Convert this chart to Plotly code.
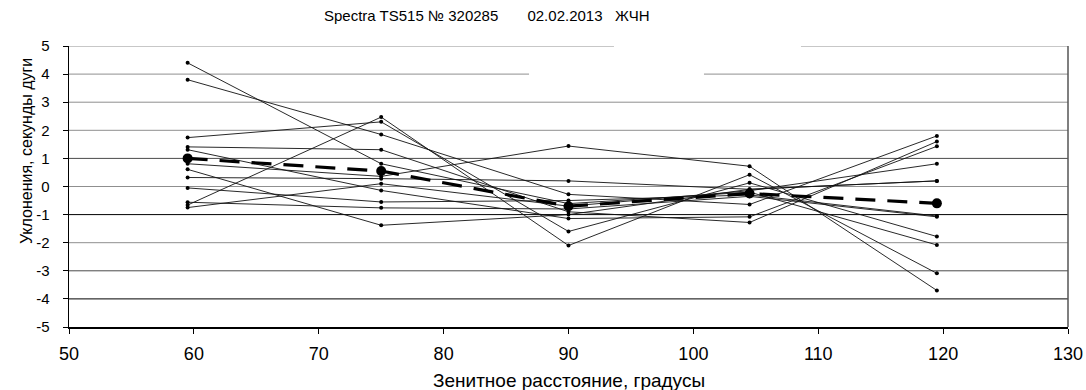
import plotly.graph_objects as go

zenith = [59.5, 75, 90, 104.5, 119.5]

s01 = [4.40, 0.81, -0.61, -0.20, -2.08]
s02 = [3.80, 1.85, -0.28, -0.64, 1.80]
s03 = [1.74, 2.30, -1.60, 0.13, -1.78]
s04 = [1.41, 1.31, -0.90, -1.28, 1.60]
s05 = [1.31, -0.14, -1.14, -1.08, 1.43]
s06 = [0.81, 0.36, 1.44, 0.72, -3.70]
s07 = [0.61, -1.38, -1.00, -0.10, 0.20]
s08 = [0.32, 0.28, 0.20, -0.10, 0.20]
s09 = [-0.05, -0.55, -0.50, -0.30, -1.05]
s10 = [-0.56, -0.76, -0.80, -0.35, -1.08]
s11 = [-0.66, 2.47, -2.10, 0.42, -3.09]
s12 = [-0.75, 0.10, -0.70, -0.15, 0.81]
series = [s01, s02, s03, s04, s05, s06, s07, s08, s09, s10, s11, s12]
mean_vals = [1.00, 0.55, -0.70, -0.25, -0.60]

x_ticks = [50, 60, 70, 80, 90, 100, 110, 120, 130]
y_ticks = [-5, -4, -3, -2, -1, 0, 1, 2, 3, 4, 5]

title_text = ("Spectra TS515 № 320285&nbsp;&nbsp;&nbsp;&nbsp;&nbsp;&nbsp;&nbsp;"
              "02.02.2013&nbsp;&nbsp;&nbsp;ЖЧН")
x_title = "Зенитное расстояние, градусы"
y_title = "Уклонения, секунды дуги"

FONT = "Liberation Sans, Arial, sans-serif"

fig = go.Figure()
for s in series:
    fig.add_trace(go.Scatter(
        x=zenith, y=s, mode="lines+markers",
        line=dict(color="#111111", width=0.9),
        marker=dict(color="#000000", size=4),
        showlegend=False, hoverinfo="skip"))
fig.add_trace(go.Scatter(
    x=zenith, y=mean_vals, mode="lines+markers",
    line=dict(color="#000000", width=3.2, dash="20px,12px"),
    marker=dict(color="#000000", size=10),
    showlegend=False, hoverinfo="skip"))

shapes = []
grid_colors = {5: "#8f8f8f", 4: "#8f8f8f", 3: "#8f8f8f", 2: "#8f8f8f", 1: "#4a4a4a",
               0: "#8f8f8f", -1: "#000000", -2: "#8f8f8f", -3: "#4a4a4a", -4: "#000000"}
for v, c in grid_colors.items():
    shapes.append(dict(type="line", xref="paper", yref="y", x0=0, x1=1, y0=v, y1=v,
                       line=dict(color=c, width=1), layer="below"))
shapes.append(dict(type="line", xref="paper", yref="paper", x0=1, x1=1, y0=0, y1=1,
                   line=dict(color="#555555", width=1.5), layer="below"))
# white patches hiding parts of the upper gridlines (as in the reference)
shapes.append(dict(type="rect", xref="paper", yref="y", x0=0.5455, x1=0.7327, y0=4.85, y1=5.2,
                   fillcolor="white", line=dict(width=0), layer="above"))
shapes.append(dict(type="rect", xref="paper", yref="y", x0=0.4605, x1=0.6356, y0=3.85, y1=4.15,
                   fillcolor="white", line=dict(width=0), layer="above"))

fig.update_layout(
    width=1086, height=390,
    margin=dict(l=69, r=18, t=46, b=63, autoexpand=False),
    paper_bgcolor="white", plot_bgcolor="white",
    font=dict(family=FONT, color="#000000"),
    shapes=shapes,
    xaxis=dict(range=[50, 130], tickvals=x_ticks, ticktext=[str(t) for t in x_ticks],
               showgrid=False, zeroline=False, showline=True, linecolor="#000000", linewidth=1.5,
               ticks="outside", ticklen=5, tickcolor="#000000", tickfont=dict(size=18),
               ticklabelstandoff=5, automargin=False),
    yaxis=dict(range=[-5, 5], tickvals=y_ticks, ticktext=[str(t) for t in y_ticks],
               showgrid=False, zeroline=False, showline=True, linecolor="#000000", linewidth=1.5,
               ticks="outside", ticklen=5, tickcolor="#000000", tickfont=dict(size=15),
               ticklabelstandoff=10, automargin=False),
    annotations=[
        dict(text=title_text, xref="paper", yref="paper", x=0.418, y=1.0,
             yshift=31, xanchor="center", yanchor="middle", showarrow=False,
             font=dict(size=15, family=FONT)),
        dict(text=x_title, xref="paper", yref="paper", x=0.5, y=0, yshift=-53,
             xanchor="center", yanchor="middle", showarrow=False,
             font=dict(size=19, family=FONT)),
        dict(text=y_title, xref="paper", yref="paper", x=0, xshift=-43, y=0.626,
             xanchor="center", yanchor="middle", textangle=-90, showarrow=False,
             font=dict(size=16, family=FONT)),
    ],
)

fig.write_html("out.html",
               config={"displayModeBar": False, "staticPlot": True},
               post_script="document.body.style.margin='0';document.body.style.padding='0';"
                           "document.body.style.overflow='hidden';")
